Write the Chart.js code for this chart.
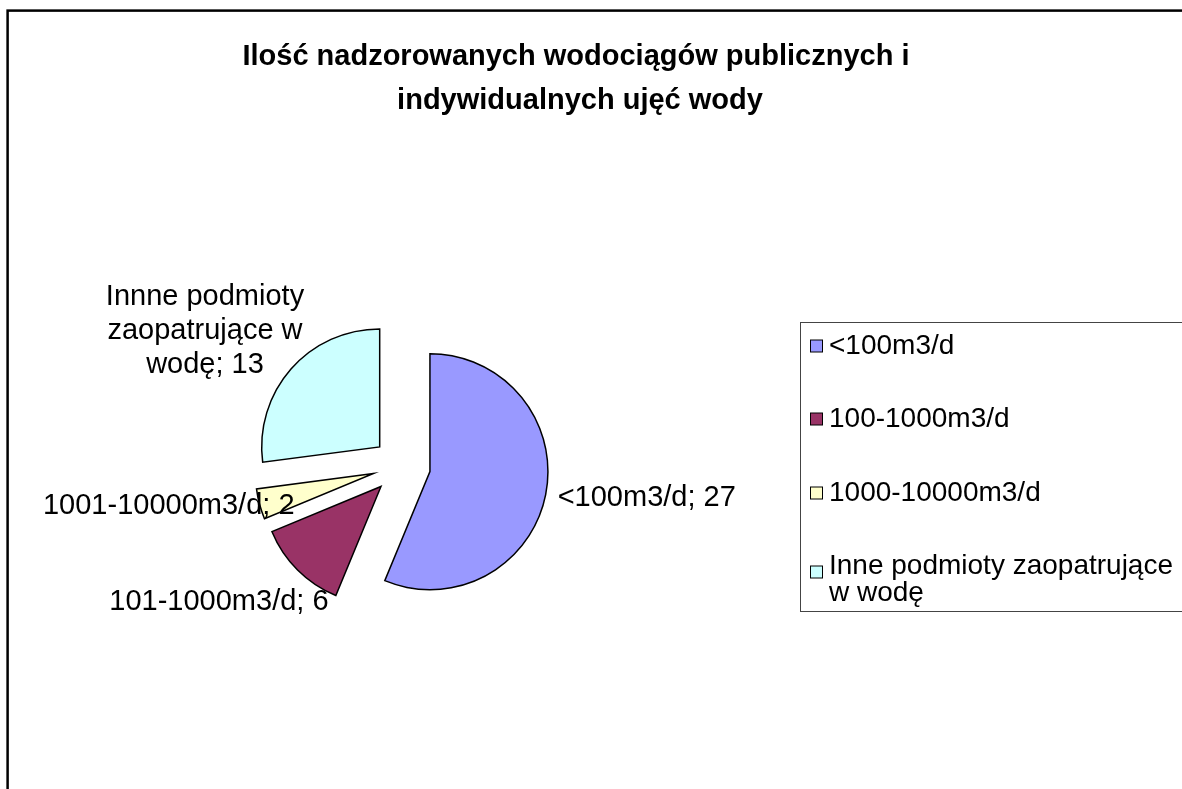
<!DOCTYPE html>
<html><head><meta charset="utf-8">
<script src="https://cdn.jsdelivr.net/npm/chart.js@4.4.1/dist/chart.umd.min.js"></script>
<style>html,body{margin:0;padding:0;background:#fff;overflow:hidden}#wrap{position:relative;width:1182px;height:789px}</style>
</head><body><div id="wrap"><canvas id="c" width="1182" height="789"></canvas></div>
<script>
// ---- data ----
const titleLines = ['Ilość nadzorowanych wodociągów publicznych i ', 'indywidualnych ujęć wody'];
const categories = ['<100m3/d', '100-1000m3/d', '1000-10000m3/d', 'Inne podmioty zaopatrujące w wodę'];
const dataLabelNames = ['<100m3/d', '101-1000m3/d', '1001-10000m3/d', 'Innne podmioty zaopatrujące w wodę'];
const counts = [27, 6, 2, 13];
const sliceColors = ['#9999FF', '#993366', '#FFFFCC', '#CCFFFF'];

// ---- styles ----
const FONT = '"Liberation Sans", Arial, Helvetica, sans-serif';
const EXPLODE = 29;

function wrapText(ctx, text, maxWidth) {
  const words = text.split(' ');
  const lines = [];
  let cur = '';
  words.forEach(w => {
    const t = cur ? cur + ' ' + w : w;
    if (ctx.measureText(t).width > maxWidth && cur) { lines.push(cur); cur = w; }
    else cur = t;
  });
  if (cur) lines.push(cur);
  return lines;
}

const framePlugin = {
  id: 'frame',
  beforeDraw(chart) {
    const ctx = chart.ctx;
    ctx.save();
    ctx.fillStyle = '#fff';
    ctx.fillRect(0, 0, chart.width, chart.height);
    ctx.strokeStyle = '#000';
    ctx.lineWidth = 2.5;
    ctx.strokeRect(7.6, 10.6, 1400, 1000);
    ctx.restore();
  }
};

const titlePlugin = {
  id: 'customTitle',
  afterDraw(chart) {
    const ctx = chart.ctx;
    ctx.save();
    ctx.font = 'bold 29px ' + FONT;
    ctx.fillStyle = '#000';
    ctx.textAlign = 'center';
    ctx.textBaseline = 'alphabetic';
    titleLines.forEach((l, i) => ctx.fillText(l, 580, 65 + i * 44));
    ctx.restore();
  }
};

const explodePlugin = {
  id: 'explode',
  beforeDatasetDraw(chart, args) {
    const ctx = chart.ctx;
    args.meta.data.forEach(arc => {
      const mid = (arc.startAngle + arc.endAngle) / 2;
      ctx.save();
      ctx.translate(Math.cos(mid) * EXPLODE, Math.sin(mid) * EXPLODE);
      arc.draw(ctx, chart.chartArea);
      ctx.restore();
    });
    return false;
  }
};

// label placement relative to the exploded slice's outer edge point at mid-angle
const labelPlacement = [
  {align: 'left',   dx: 12,  dy: 3,   maxWidth: Infinity, lineH: 34},
  {align: 'right',  dx: 31,  dy: 32,  maxWidth: Infinity, lineH: 34},
  {align: 'right',  dx: 35,  dy: 2,   maxWidth: Infinity, lineH: 34},
  {align: 'center', dx: -86, dy: -38, maxWidth: 205,      lineH: 34}
];

const dataLabelPlugin = {
  id: 'sliceLabels',
  afterDatasetsDraw(chart) {
    const ctx = chart.ctx;
    const meta = chart.getDatasetMeta(0);
    const vals = chart.data.datasets[0].data;
    ctx.save();
    ctx.font = '29px ' + FONT;
    ctx.fillStyle = '#000';
    ctx.textBaseline = 'middle';
    meta.data.forEach((arc, i) => {
      const mid = (arc.startAngle + arc.endAngle) / 2;
      const r = arc.outerRadius + EXPLODE;
      const ex = arc.x + Math.cos(mid) * r;
      const ey = arc.y + Math.sin(mid) * r;
      const p = labelPlacement[i];
      const text = dataLabelNames[i] + '; ' + vals[i];
      const lines = wrapText(ctx, text, p.maxWidth);
      ctx.textAlign = p.align;
      const cy = ey + p.dy;
      const y0 = cy - (lines.length - 1) * p.lineH / 2;
      lines.forEach((l, k) => ctx.fillText(l, ex + p.dx, y0 + k * p.lineH));
    });
    ctx.restore();
  }
};

const legendPlugin = {
  id: 'boxLegend',
  afterDraw(chart) {
    const ctx = chart.ctx;
    const ds = chart.data.datasets[0];
    ctx.save();
    ctx.strokeStyle = '#444';
    ctx.lineWidth = 1;
    ctx.strokeRect(800.5, 322.5, 600, 289);
    ctx.font = '28px ' + FONT;
    ctx.textBaseline = 'middle';
    ctx.textAlign = 'left';
    const rowY = [346, 419, 493, 566];
    chart.data.labels.forEach((lab, i) => {
      const lines = wrapText(ctx, lab, 345);
      const y = rowY[i];
      const sqY = lines.length > 1 ? y + 6 : y;
      ctx.fillStyle = ds.backgroundColor[i];
      ctx.fillRect(810.5, sqY - 6, 12, 12);
      ctx.strokeStyle = '#000';
      ctx.strokeRect(810.5, sqY - 6, 12, 12);
      ctx.fillStyle = '#000';
      lines.forEach((l, k) => ctx.fillText(l, 829, y + k * 27));
    });
    ctx.restore();
  }
};

new Chart(document.getElementById('c'), {
  type: 'pie',
  data: {
    labels: categories,
    datasets: [{
      data: counts,
      backgroundColor: sliceColors,
      borderColor: '#000',
      borderWidth: 1.5,
      borderJoinStyle: 'miter',
      radius: 118
    }]
  },
  options: {
    responsive: false,
    animation: false,
    layout: {padding: {left: 150, right: 529, top: 300, bottom: 157}},
    plugins: {legend: {display: false}, title: {display: false}, tooltip: {enabled: false}}
  },
  plugins: [framePlugin, explodePlugin, dataLabelPlugin, legendPlugin, titlePlugin]
});
</script></body></html>
